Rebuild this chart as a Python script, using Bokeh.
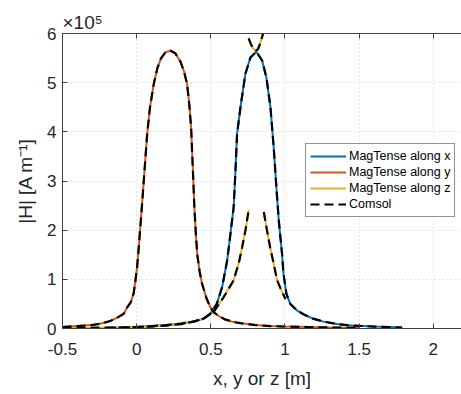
import numpy as np
from bokeh.plotting import figure
from bokeh.models import (Range1d, LinearAxis, Legend, LegendItem, Title,
                          FixedTicker, NumeralTickFormatter, CustomJSTickFormatter)
from bokeh.embed import file_html
from bokeh.resources import INLINE

# ---------------- data (|H| in units of 1e5 A/m) ----------------
# MagTense along x
x_pos = [-0.2, -0.1, 0.0, 0.1, 0.2, 0.3, 0.38, 0.452, 0.497, 0.54, 0.576, 0.61,
         0.632, 0.654, 0.666, 0.677, 0.70, 0.733, 0.767, 0.807, 0.846, 0.875,
         0.902, 0.924, 0.942, 0.958, 0.98, 0.99, 1.01, 1.036, 1.08, 1.13, 1.19,
         1.26, 1.35, 1.45, 1.6, 1.79]
x_H = [0.01, 0.02, 0.03, 0.05, 0.07, 0.10, 0.14, 0.20, 0.30, 0.50, 0.84, 1.38,
       1.92, 2.47, 3.20, 3.96, 4.50, 5.18, 5.51, 5.63, 5.45, 5.10,
       4.50, 3.68, 2.87, 2.20, 1.52, 1.11, 0.70, 0.50, 0.37, 0.28, 0.20,
       0.14, 0.09, 0.06, 0.04, 0.02]

# MagTense along y
y_pos = [-0.5, -0.4, -0.3, -0.24, -0.18, -0.13, -0.087, -0.064, -0.04, -0.02,
         -0.008, 0.003, 0.014, 0.037, 0.055, 0.071, 0.09, 0.115, 0.14, 0.165,
         0.195, 0.228, 0.26, 0.295, 0.32, 0.34, 0.355, 0.367, 0.378, 0.389,
         0.398, 0.408, 0.425, 0.441, 0.47, 0.497, 0.52, 0.56, 0.6, 0.654, 0.72,
         0.8, 0.9, 1.0, 1.15, 1.3, 1.5]
y_H = [0.03, 0.05, 0.07, 0.10, 0.15, 0.22, 0.30, 0.43, 0.53, 0.72,
       0.98, 1.25, 1.65, 2.55, 3.30, 3.96, 4.50, 4.97, 5.30, 5.50,
       5.62, 5.65, 5.60, 5.43, 5.22, 4.97, 4.55, 4.09, 3.30, 2.47,
       1.98, 1.52, 1.15, 0.91, 0.62, 0.43, 0.33, 0.24, 0.18, 0.13, 0.10,
       0.07, 0.05, 0.04, 0.03, 0.02, 0.015]

# MagTense along z (three pieces)
z_pos_a = [-0.5, -0.3, -0.1, 0.0, 0.1, 0.2, 0.3, 0.4, 0.45, 0.52, 0.587, 0.654,
           0.69, 0.711, 0.733, 0.755]
z_H_a = [0.01, 0.015, 0.02, 0.03, 0.04, 0.06, 0.09, 0.15, 0.20, 0.34, 0.64, 0.98,
         1.35, 1.65, 1.99, 2.41]
z_pos_b = [0.755, 0.768, 0.78, 0.793, 0.805, 0.818, 0.83, 0.843, 0.857]
z_H_b = [5.90, 5.80, 5.72, 5.67, 5.65, 5.68, 5.78, 5.90, 6.05]
z_pos_c = [0.857, 0.879, 0.9, 0.925, 0.947, 0.975, 1.003]
z_H_c = [2.37, 1.99, 1.65, 1.30, 0.98, 0.78, 0.60]

x_ticks = [-0.5, 0, 0.5, 1, 1.5, 2]
y_ticks = [0, 1, 2, 3, 4, 5, 6]

labels = ["MagTense along x", "MagTense along y", "MagTense along z", "Comsol"]
colors = ["#0072BD", "#D95319", "#EDB120"]

FONT = "Liberation Sans"
TXT = "#262626"

nan = [float("nan")]
z_pos = z_pos_a + nan + z_pos_b + nan + z_pos_c
z_H = z_H_a + nan + z_H_b + nan + z_H_c

p = figure(width=461, height=394, output_backend="svg", toolbar_location=None,
           x_range=Range1d(-0.5, 2.19), y_range=Range1d(0, 6),
           min_border_left=62, min_border_right=0, min_border_top=33,
           min_border_bottom=66)
p.outline_line_color = None
p.background_fill_color = "white"
p.border_fill_color = "white"

rx = p.line(x_pos, x_H, line_color=colors[0], line_width=2)
ry = p.line(y_pos, y_H, line_color=colors[1], line_width=2)
rz = p.line(z_pos, z_H, line_color=colors[2], line_width=2)
dash = "9 5"
rc = p.line(x_pos, x_H, line_color="black", line_width=2.2, line_dash=dash)
p.line(y_pos, y_H, line_color="black", line_width=2.2, line_dash=dash)
p.line(z_pos, z_H, line_color="black", line_width=2.2, line_dash=dash)

# axes
for ax in (p.xaxis[0], p.yaxis[0]):
    ax.major_tick_in = 5
    ax.major_tick_out = 0
    ax.minor_tick_line_color = None
    ax.axis_line_color = "#404040"
    ax.major_tick_line_color = "#404040"
    ax.major_label_text_font = FONT
    ax.major_label_text_font_size = "17px"
    ax.major_label_text_color = TXT
    ax.axis_label_text_font = FONT
    ax.axis_label_text_font_size = "19px"
    ax.axis_label_text_font_style = "normal"
    ax.axis_label_text_color = TXT

p.xaxis.ticker = FixedTicker(ticks=x_ticks)
p.yaxis.ticker = FixedTicker(ticks=y_ticks)
p.xaxis.formatter = NumeralTickFormatter(format="0.[0]")
p.yaxis.formatter = NumeralTickFormatter(format="0")
p.xaxis.major_label_standoff = 14
p.yaxis.major_label_standoff = 6
p.xaxis.axis_label = "x, y or z [m]"
p.yaxis.axis_label = "|H| [A m\u207b\u00b9]"
p.xaxis.axis_label_standoff = 10
p.yaxis.axis_label_standoff = 8

top = LinearAxis(ticker=FixedTicker(ticks=x_ticks), major_tick_in=5, major_tick_out=0,
                 minor_tick_line_color=None,
                 formatter=CustomJSTickFormatter(code="return ''"),
                 major_label_standoff=0, axis_line_color="#404040",
                 major_tick_line_color="#404040")
p.add_layout(top, "above")

p.xgrid.grid_line_color = "#cfcfcf"
p.ygrid.grid_line_color = "#cfcfcf"
p.xgrid.grid_line_dash = "1 3"
p.ygrid.grid_line_dash = "1 3"

# exponent label as a title above the frame
p.add_layout(Title(text="\u00d710\u2075", text_font=FONT, text_font_size="19px",
                   text_font_style="normal", text_color=TXT, align="left",
                   standoff=1, offset=0), "above")

legend = Legend(items=[LegendItem(label=labels[0], renderers=[rx]),
                       LegendItem(label=labels[1], renderers=[ry]),
                       LegendItem(label=labels[2], renderers=[rz]),
                       LegendItem(label=labels[3], renderers=[rc])],
                location=(243, 111))
legend.label_text_font = FONT
legend.label_text_font_size = "12.5px"
legend.label_text_color = "black"
legend.label_height = 16
legend.glyph_height = 16
legend.glyph_width = 36
legend.label_standoff = 3
legend.padding = 4
legend.spacing = 0
legend.margin = 0
legend.border_line_color = "#262626"
legend.border_line_width = 1
legend.background_fill_alpha = 1
p.add_layout(legend)

open("out.html", "w").write(file_html(p, INLINE))
